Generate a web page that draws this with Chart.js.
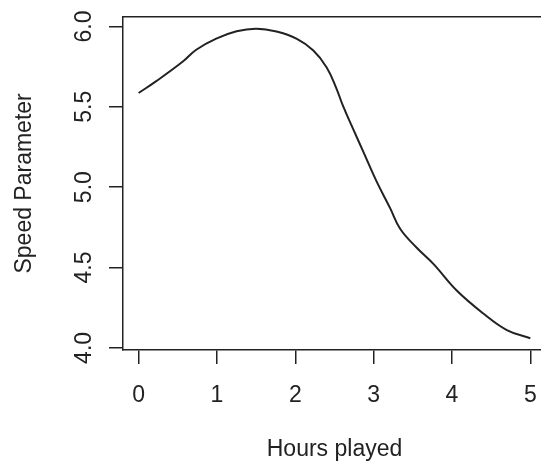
<!DOCTYPE html>
<html>
<head>
<meta charset="utf-8">
<script src="https://cdn.jsdelivr.net/npm/chart.js@4"></script>
<style>
  html, body { margin: 0; padding: 0; background: #fff; overflow: hidden; }
  #wrap { width: 560px; height: 465px; }
</style>
</head>
<body>
<div id="wrap"><canvas id="speed" width="560" height="465"></canvas></div>
<script>
// hours played vs fitted speed parameter
hours = [0, 0.22, 0.56, 0.735, 0.99, 1.25, 1.5, 1.76, 2.02, 2.23, 2.4, 2.52, 2.61, 2.74, 2.87, 3.04, 3.21, 3.34, 3.55, 3.765, 4.06, 4.4, 4.7, 5.0]
speed = [5.586, 5.658, 5.78, 5.855, 5.924, 5.97, 5.986, 5.968, 5.922, 5.85, 5.745, 5.62, 5.504, 5.36, 5.218, 5.033, 4.87, 4.74, 4.623, 4.521, 4.357, 4.214, 4.111, 4.06]
xTicks = [0, 1, 2, 3, 4, 5]
yTicks = [4.0, 4.5, 5.0, 5.5, 6.0]

ink = '#222'
fontFamily = '"Liberation Sans", Arial, sans-serif'
fontSize = 23

points = hours.map((h, i) => ({x: h, y: speed[i]}))

// box round the plot + y tick labels turned like R's axis text
rStyle = {
    id: 'rStyle',
    afterDraw(chart) {
        const ctx = chart.ctx
        const a = chart.chartArea
        ctx.save()
        ctx.strokeStyle = ink
        ctx.lineWidth = 1.5
        ctx.beginPath()
        ctx.moveTo(a.left, a.top)
        ctx.lineTo(a.right, a.top)
        ctx.lineTo(a.right, a.bottom)
        ctx.stroke()
        const ys = chart.scales.y
        ctx.fillStyle = ink
        ctx.font = fontSize + 'px ' + fontFamily
        ctx.textAlign = 'center'
        ctx.textBaseline = 'middle'
        yTicks.forEach((v) => {
            ctx.save()
            ctx.translate(85, ys.getPixelForValue(v))
            ctx.rotate(-Math.PI / 2)
            ctx.fillText(v.toFixed(1), 0, 0)
            ctx.restore()
        })
        ctx.restore()
    }
}

new Chart(document.getElementById('speed').getContext('2d'), {
    type: 'line',
    data: {
        datasets: [{
            data: points,
            borderColor: ink,
            borderWidth: 2,
            pointRadius: 0,
            tension: 0.4,
            fill: false
        }]
    },
    options: {
        responsive: false,
        animation: false,
        layout: { padding: { top: 13, right: 14, left: 0, bottom: 0 } },
        plugins: { legend: { display: false }, tooltip: { enabled: false } },
        scales: {
            x: {
                type: 'linear',
                min: -0.2,
                max: 5.2,
                afterFit: (s) => { s.height = 115 },
                afterBuildTicks: (s) => { s.ticks = xTicks.map(v => ({value: v})) },
                border: { display: true, color: ink, width: 1.5 },
                grid: { drawOnChartArea: false, drawTicks: true, tickLength: 14, color: ink, lineWidth: 1.5 },
                ticks: {
                    color: ink,
                    font: { family: fontFamily, size: fontSize },
                    padding: 18,
                    maxRotation: 0,
                    callback: (v) => String(v)
                },
                title: {
                    display: true,
                    text: 'Hours played',
                    color: ink,
                    font: { family: fontFamily, size: fontSize },
                    padding: { top: 0, bottom: 2 }
                }
            },
            y: {
                type: 'linear',
                min: 3.987,
                max: 6.06,
                afterFit: (s) => { s.width = 123 },
                afterBuildTicks: (s) => { s.ticks = yTicks.map(v => ({value: v})) },
                border: { display: true, color: ink, width: 1.5 },
                grid: { drawOnChartArea: false, drawTicks: true, tickLength: 14, color: ink, lineWidth: 1.5 },
                ticks: { color: 'rgba(0,0,0,0)', font: { family: fontFamily, size: fontSize } },
                title: {
                    display: true,
                    text: 'Speed Parameter',
                    color: ink,
                    font: { family: fontFamily, size: fontSize },
                    padding: { top: 11, bottom: 0 }
                }
            }
        }
    },
    plugins: [rStyle]
})
</script>
</body>
</html>
